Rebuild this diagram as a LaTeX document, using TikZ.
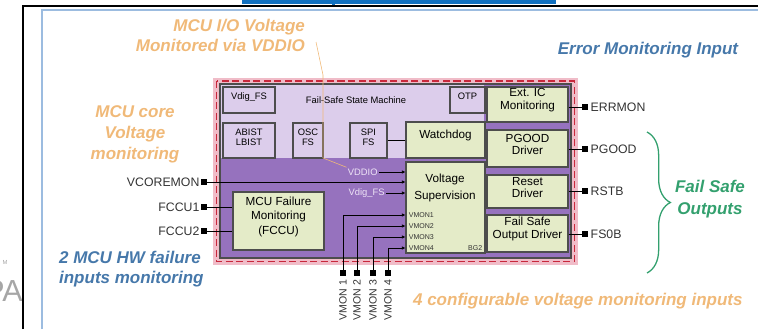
\documentclass[tikz,border=0pt]{standalone}
\usepackage{fontspec}
\setmainfont{Liberation Sans}
\usepackage{tikz}
\usetikzlibrary{positioning,fit,arrows.meta,decorations.pathreplacing}

\definecolor{lav}{HTML}{DCCDEB}
\definecolor{purp}{HTML}{9672BE}
\definecolor{gfill}{HTML}{E4EBC8}
\definecolor{boxline}{HTML}{4D4D4D}
\definecolor{bandpink}{HTML}{F0BCC8}
\definecolor{bandred}{HTML}{C8283C}
\definecolor{headorange}{HTML}{F0B978}
\definecolor{headblue}{HTML}{4678AA}
\definecolor{fsgreen}{HTML}{33A06E}
\definecolor{barblue}{HTML}{1070C0}
\definecolor{frameblue}{HTML}{9CBCE0}
\definecolor{pintext}{HTML}{333333}
\definecolor{paletext}{HTML}{EEE4F6}

\begin{document}
\begin{tikzpicture}[
    x=0.03cm, y=-0.03cm,
    lbox/.style={draw=boxline, fill=lav, line width=0.9pt, inner sep=0pt, align=center, font=\fontsize{8}{9}\selectfont},
    gbox/.style={draw=boxline, fill=gfill, line width=0.9pt, inner sep=0pt, align=center, font=\fontsize{10}{11}\selectfont},
    pin/.style={fill=black, minimum size=5pt, inner sep=0pt},
    pinlbl/.style={font=\fontsize{10.5}{12}\selectfont, text=pintext, inner sep=1pt},
    vmonlbl/.style={font=\fontsize{9}{10}\selectfont, text=pintext, inner sep=0pt},
    smalllbl/.style={font=\fontsize{6}{7}\selectfont, text=pintext, inner sep=0.5pt},
    heading/.style={font=\fontsize{14.5}{17}\selectfont\bfseries\itshape, align=center},
    wire/.style={line width=0.7pt},
    inarrow/.style={wire, -{Latex[length=3pt, width=3pt]}},
    leader/.style={draw=headorange, line width=0.5pt}
]
\useasboundingbox (0,0) rectangle (758,329);

% page frame
\node[font=\fontsize{26}{26}\selectfont, text=gray!70, anchor=east, inner sep=0pt] (pa) at (23,291) {PA};
\node[font=\fontsize{5}{5}\selectfont, text=gray!70, inner sep=0pt] (tm) at (5,262) {M};
\fill[barblue] (242,0) rectangle (556,3.5);
\fill[barblue] (332,0) rectangle (335,5);
\draw[black, line width=1.3pt] (23,329) -- (23,6) -- (758,6);
\draw[frameblue, line width=1.6pt] (42,329) -- (42,10) -- (758,10);

% chip outline
\fill[bandpink] (213,78) rectangle (578,265);
\draw[bandred, line width=1.5pt, dash pattern=on 6pt off 3pt] (216.5,81) rectangle (574.5,261.5);
\fill[lav] (220,84) rectangle (571,258);
\fill[purp] (220,158) -- (484,158) -- (484,84) -- (571,84) -- (571,258) -- (220,258) -- cycle;
\draw[boxline, line width=1.2pt] (220,84) rectangle (571,258);

% fail-safe state machine
\node[font=\fontsize{8}{9}\selectfont] (fssm) at (356,100) {Fail-Safe State Machine};
\node[lbox, fit={(223,87) (275,113)}] (vdigfs) {Vdig\_FS};
\node[lbox, fit={(450,87) (485,113)}] (otp) {OTP};
\node[lbox, fit={(223,123) (275,158)}] (abist) {ABIST\\LBIST};
\node[lbox, fit={(293,123) (323,158)}] (oscfs) {OSC\\FS};
\node[lbox, fit={(350,123) (387,158)}] (spifs) {SPI\\FS};

% function blocks
\node[gbox, fit={(406,122) (485,158)}] (wdog) {Watchdog};
\node[gbox, fit={(406,162) (485,253)}] (vsup) {};
\node[font=\fontsize{10}{15}\selectfont, align=center] (vsuplbl) at (445,188) {Voltage\\Supervision};
\node[gbox, fit={(487,87) (568,122)}] (extic) {Ext. IC\\Monitoring};
\node[gbox, fit={(487,130) (568,167)}] (pgdrv) {PGOOD\\Driver};
\node[gbox, fit={(487,175) (568,208)}] (rstdrv) {Reset\\Driver};
\node[gbox, fit={(487,215) (568,252)}] (fsdrv) {Fail Safe\\Output Driver};
\node[gbox, fit={(233,192) (324,250)}, font=\fontsize{10}{12.5}\selectfont] (fccu) {MCU Failure\\Monitoring\\(FCCU)};

% labels inside voltage supervision
\node[smalllbl, anchor=west] (lvm1in) at (408,215) {VMON1};
\node[smalllbl, anchor=west] (lvm2in) at (408,226) {VMON2};
\node[smalllbl, anchor=west] (lvm3in) at (408,237) {VMON3};
\node[smalllbl, anchor=west] (lvm4in) at (408,248) {VMON4};
\node[smalllbl, anchor=east] (bg2) at (483,248) {BG2};
\node[font=\fontsize{8}{9}\selectfont, text=paletext, anchor=east, inner sep=1pt] (vddio) at (379,172) {VDDIO};
\node[font=\fontsize{8}{9}\selectfont, text=paletext, anchor=east, inner sep=1pt] (vdiglbl) at (386,193) {Vdig\_FS};

% pins
\node[pin] (pvcore) at (204,182) {};
\node[pin] (pfccu1) at (204,207) {};
\node[pin] (pfccu2) at (204,231) {};
\node[pinlbl, left=0pt of pvcore] (lvcore) {VCOREMON};
\node[pinlbl, left=0pt of pfccu1] (lfccu1) {FCCU1};
\node[pinlbl, left=0pt of pfccu2] (lfccu2) {FCCU2};

\node[pin] (perr) at (585,107) {};
\node[pin] (ppgood) at (585,149) {};
\node[pin] (prstb) at (585,191) {};
\node[pin] (pfs0b) at (585,234) {};
\node[pinlbl, right=1pt of perr] (lerr) {ERRMON};
\node[pinlbl, right=1pt of ppgood] (lpgood) {PGOOD};
\node[pinlbl, right=1pt of prstb] (lrstb) {RSTB};
\node[pinlbl, right=1pt of pfs0b] (lfs0b) {FS0B};

\node[pin] (pvm1) at (343,273) {};
\node[pin] (pvm2) at (357,273) {};
\node[pin] (pvm3) at (373,273) {};
\node[pin] (pvm4) at (388,273) {};
\node[vmonlbl, rotate=90, anchor=east] (lvm1) at ([yshift=-3pt]pvm1.south) {VMON 1};
\node[vmonlbl, rotate=90, anchor=east] (lvm2) at ([yshift=-3pt]pvm2.south) {VMON 2};
\node[vmonlbl, rotate=90, anchor=east] (lvm3) at ([yshift=-3pt]pvm3.south) {VMON 3};
\node[vmonlbl, rotate=90, anchor=east] (lvm4) at ([yshift=-3pt]pvm4.south) {VMON 4};

% connections
\draw[wire] (spifs.east) -- (spifs.east -| wdog.west);
\draw[inarrow] (vddio) -- (vsup.west |- vddio);
\draw[inarrow] (pvcore) -- (vsup.west |- pvcore);
\draw[inarrow] (vdiglbl) -- (vsup.west |- vdiglbl);
\draw[wire] (pfccu1) -- (fccu.west |- pfccu1);
\draw[wire] (pfccu2) -- (fccu.west |- pfccu2);
\draw[inarrow] (pvm1) |- (vsup.west |- lvm1in);
\draw[inarrow] (pvm2) |- (vsup.west |- lvm2in);
\draw[inarrow] (pvm3) |- (vsup.west |- lvm3in);
\draw[inarrow] (pvm4) |- (vsup.west |- lvm4in);
\draw[wire] (extic.east |- perr) -- (perr);
\draw[wire] (pgdrv.east |- ppgood) -- (ppgood);
\draw[wire] (rstdrv.east |- prstb) -- (prstb);
\draw[wire] (fsdrv.east |- pfs0b) -- (pfs0b);

% annotations
\node[heading, text=headorange, align=right, anchor=east] (iohead) at (309,35) {MCU I/O Voltage\\Monitored via VDDIO};
\draw[leader] ([shift={(6pt,-6pt)}]iohead.east) -- (323,75) -- (323,158) -- (vddio.north west);
\node[heading, text=headorange, font=\fontsize{14.5}{18}\selectfont\bfseries\itshape] (corehead) at (135,134) {MCU core\\Voltage\\monitoring};
\node[heading, text=headblue] (errhead) at (648,50) {Error Monitoring Input};
\node[heading, text=headblue, align=left, anchor=west] (fccuhead) at (55,269) {2 MCU HW failure\\inputs monitoring};
\node[heading, text=headorange, anchor=west] (vmonhead) at (409,301) {4 configurable voltage monitoring inputs};
\coordinate (btop) at (647,132);
\coordinate (bbot) at (647,273);
\draw[fsgreen, line width=1.1pt, decorate, decoration={brace, amplitude=0.7cm}] (btop) -- (bbot);
\node[heading, text=fsgreen, font=\fontsize{14.5}{19}\selectfont\bfseries\itshape] (fsout) at (710,199) {Fail Safe\\Outputs};
\end{tikzpicture}
\end{document}
